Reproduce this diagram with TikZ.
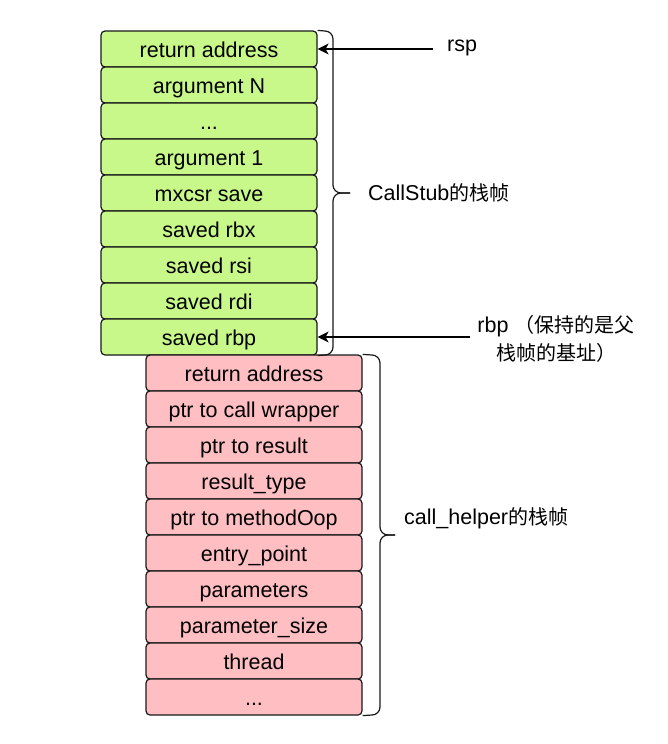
\documentclass[tikz,border=0pt]{standalone}
\usepackage{fontspec}
\setmainfont{Liberation Sans}
\newfontfamily\cjkf{Noto Sans CJK SC}
\newcommand{\zh}[1]{{\cjkf\fontsize{20}{24}\selectfont #1}}
\newcommand{\mydots}{...}
\usetikzlibrary{arrows.meta}
\definecolor{greenfill}{RGB}{200,248,138}
\definecolor{pinkfill}{RGB}{255,190,194}
\begin{document}
\begin{tikzpicture}[x=1pt,y=-1pt,
  font=\fontsize{21.5}{24}\selectfont,
  cell/.style={draw=black!90,line width=1.2pt,rounded corners=4pt,minimum width=216pt,minimum height=36pt,inner sep=0pt,text height=16.5pt,text depth=0pt,anchor=center},
  gcell/.style={cell,fill=greenfill},
  pcell/.style={cell,fill=pinkfill},
  brace/.style={draw=black!90,line width=1.2pt},
  ptr/.style={draw=black,line width=1.2pt,-{Stealth[length=11pt,width=11pt,inset=3pt]}},
  lbl/.style={inner sep=0pt}]
\useasboundingbox (0,0) rectangle (668,744);
% green frame
\foreach \t [count=\i from 0] in {return address,argument N,\mydots,argument 1,mxcsr save,saved rbx,saved rsi,saved rdi,saved rbp}
  \node[gcell] (g\i) at (209,49+36*\i) {\t};
% pink frame
\foreach \t [count=\i from 0] in {return address,ptr to call wrapper,ptr to result,result\_type,ptr to methodOop,entry\_point,parameters,parameter\_size,thread,\mydots}
  \node[pcell] (p\i) at (254,373+36*\i) {\t};
% braces
\coordinate (gb) at (350,193);
\coordinate (pb) at (395,535);
\draw[brace] (g0.north east) -- (325,31) arc[start angle=-90,end angle=0,radius=8] -- (333,185) arc[start angle=180,end angle=90,radius=8] -- (gb);
\draw[brace] (gb) -- (341,193) arc[start angle=-90,end angle=-180,radius=8] -- (333,347) arc[start angle=0,end angle=90,radius=8] -- (g8.south east);
\draw[brace] (p0.north east) -- (372,355) arc[start angle=-90,end angle=0,radius=8] -- (380,527) arc[start angle=180,end angle=90,radius=8] -- (pb);
\draw[brace] (pb) -- (388,535) arc[start angle=-90,end angle=-180,radius=8] -- (380,707) arc[start angle=0,end angle=90,radius=8] -- (p9.south east);
% labels
\node[lbl,anchor=west] (lcs) at (368,193) {CallStub\zh{的栈帧}};
\node[lbl,anchor=west] (lch) at (404,518) {call\_helper\zh{的栈帧}};
\node[lbl,anchor=west] (rsp) at (447,48) {rsp};
\node[lbl,align=center,font=\fontsize{21.5}{28}\selectfont] (rbp) at (556,339) {rbp \zh{（保持的是父}\\\zh{栈帧的基址）}};
% pointers
\coordinate (rspend) at (433,49);
\coordinate (rbpend) at (470,337);
\draw[ptr] (rspend) -- (g0.east);
\draw[ptr] (rbpend) -- (g8.east);
\end{tikzpicture}
\end{document}
